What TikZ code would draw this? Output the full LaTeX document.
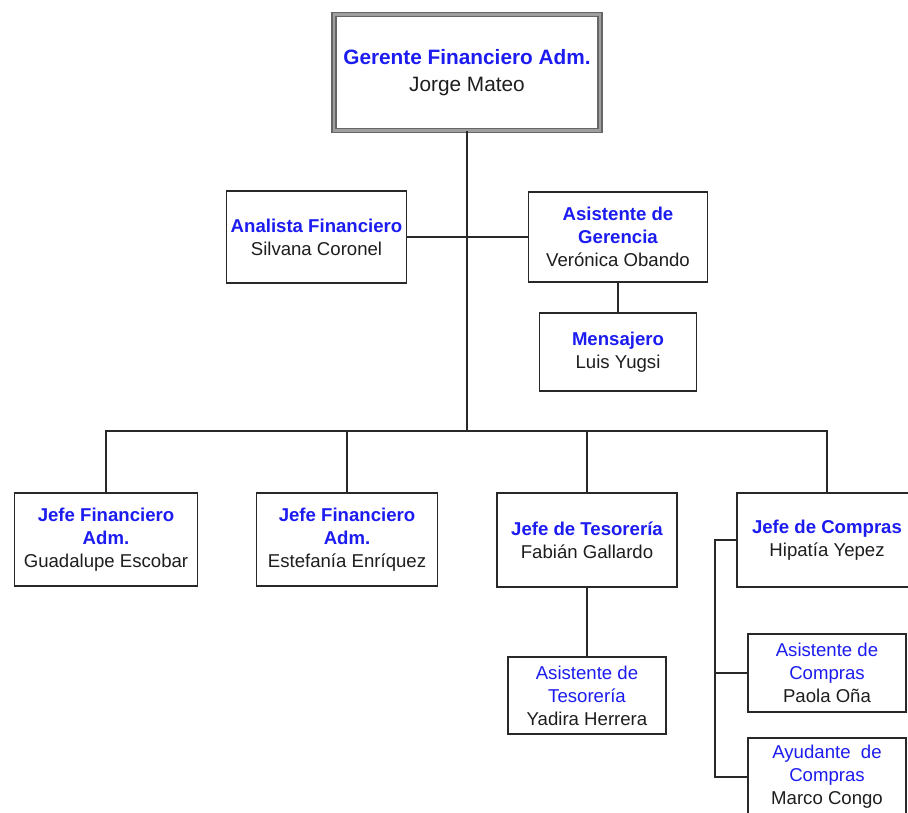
\documentclass[tikz,border=0pt]{standalone}
\usepackage{fontspec}
\setmainfont{Liberation Sans}
\definecolor{tblue}{RGB}{28,28,240}
\definecolor{tblack}{RGB}{30,30,30}
\definecolor{lcol}{RGB}{40,40,40}
\begin{document}
\begin{tikzpicture}[x=1pt,y=-1pt,
  box/.style={draw=lcol,line width=1.7pt,fill=white,inner sep=0pt,align=center,
    text=tblack,font=\fontsize{18.6}{23}\selectfont,anchor=center},
  topbox/.style={draw=black!60,line width=1.3pt,double=gray!75,double distance=2.6pt,
    inner sep=0pt,align=center,text=tblack,font=\fontsize{20.8}{27}\selectfont},
  conn/.style={draw=lcol,line width=1.8pt}]
\useasboundingbox (0,0) rectangle (908,812);
\fill[white] (0,0) rectangle (908,812);

\node[topbox,minimum width=266,minimum height=116] (top) at (467,72.5)
  {{\color{tblue}\bfseries Gerente Financiero Adm.}\\Jorge Mateo};

\node[box,minimum width=180,minimum height=92] (ana) at (316.5,237)
  {{\color{tblue}\bfseries Analista Financiero}\\Silvana Coronel};
\node[box,minimum width=179,minimum height=90] (asg) at (618,237)
  {{\color{tblue}\bfseries Asistente de}\\{\color{tblue}\bfseries Gerencia}\\Verónica Obando};
\node[box,minimum width=157,minimum height=78] (men) at (618,352)
  {{\color{tblue}\bfseries Mensajero}\\Luis Yugsi};

\node[box,minimum width=183,minimum height=93] (j1) at (106,539.5)
  {{\color{tblue}\bfseries Jefe Financiero}\\{\color{tblue}\bfseries Adm.}\\Guadalupe Escobar};
\node[box,minimum width=181,minimum height=93] (j2) at (347,539.5)
  {{\color{tblue}\bfseries Jefe Financiero}\\{\color{tblue}\bfseries Adm.}\\Estefanía Enríquez};
\node[box,minimum width=180,minimum height=94] (tes) at (587,540)
  {{\color{tblue}\bfseries Jefe de Tesorería}\\Fabián Gallardo};
\node[box,minimum width=180,minimum height=94] (com) at (827,540)
  {{\color{tblue}\bfseries Jefe de Compras}\\Hipatía Yepez};

\node[box,minimum width=158,minimum height=77] (ates) at (587,695.5)
  {{\color{tblue}Asistente de}\\{\color{tblue}Tesorería}\\Yadira Herrera};
\node[box,minimum width=158,minimum height=78] (acom) at (827,673)
  {{\color{tblue}Asistente de}\\{\color{tblue}Compras}\\Paola Oña};
\node[box,minimum width=158,minimum height=78] (ayu) at (827,777)
  {{\color{tblue}Ayudante\ \ de}\\{\color{tblue}Compras}\\Marco Congo};

\coordinate (bus) at (467,431);
\coordinate (spine) at (715,540);

\draw[conn] (top.south) -- (bus);
\draw[conn] (ana.east) -- (asg.west);
\draw[conn] (asg.south) -- (men.north);
\draw[conn] (j1.north) |- (com.north |- bus) -- (com.north);
\draw[conn] (j2.north) -- (j2.north |- bus);
\draw[conn] (tes.north) -- (tes.north |- bus);
\draw[conn] (tes.south) -- (ates.north);
\draw[conn] (com.west) -- (spine) |- (ayu.west);
\draw[conn] (acom.west) -- (acom.west -| spine);
\end{tikzpicture}
\end{document}
